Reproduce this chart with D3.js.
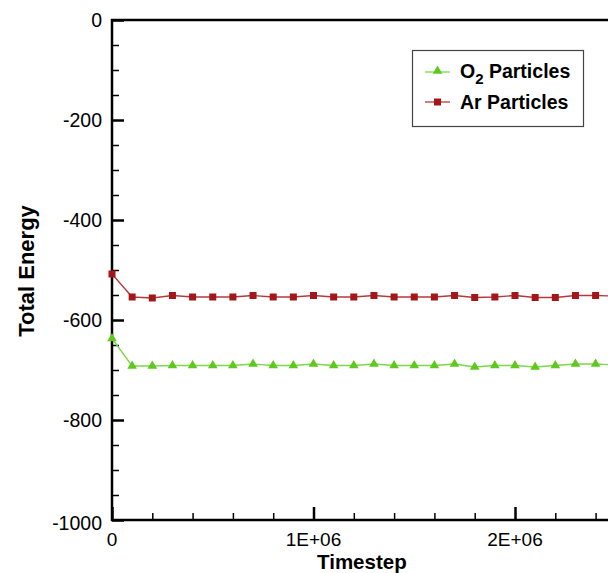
<!DOCTYPE html>
<html>
<head>
<meta charset="utf-8">
<script src="https://cdn.jsdelivr.net/npm/d3@7"></script>
<style>
  html, body { margin: 0; padding: 0; background: #fff; }
  svg { display: block; }
  text { font-family: "Liberation Sans", Arial, sans-serif; }
</style>
</head>
<body>
<svg id="chart" width="608" height="573"></svg>
<script>
// Sampled every 1E+05 timesteps
const timesteps = d3.range(0, 26).map(i => i * 1e5);
const o2Energy = [-637, -692, -692, -691, -691, -691, -691, -688, -691, -691,
                  -688, -691, -691, -688, -691, -691, -691, -688, -694, -691,
                  -691, -694, -691, -688, -688, -690];
const arEnergy = [-508, -554, -556, -551, -554, -554, -554, -551, -554, -554,
                  -551, -554, -554, -551, -554, -554, -554, -551, -555, -554,
                  -551, -555, -555, -551, -551, -552];
const yTickValues = [0, -200, -400, -600, -800, -1000];
const xTickValues = [0, 1e6, 2e6];
const xTickLabels = ["0", "1E+06", "2E+06"];
const seriesNames = ["O\u2082 Particles", "Ar Particles"];

const svg = d3.select("#chart");
const plotLeft = 112, plotTop = 20, plotBottom = 520;
const x = d3.scaleLinear().domain([0, 3e6]).range([plotLeft, plotLeft + 3 * 201.5]);
const y = d3.scaleLinear().domain([-1000, 0]).range([plotBottom, plotTop]);
const plotRight = x(3e6);

const green = "#5fc81c", greenLine = "#7ad84a";
const red = "#a3161a", redLine = "#b8383a";

// Frame
svg.append("rect")
  .attr("x", plotLeft).attr("y", plotTop)
  .attr("width", plotRight - plotLeft).attr("height", plotBottom - plotTop)
  .attr("fill", "none").attr("stroke", "#000").attr("stroke-width", 2.5);

// Left axis: inward ticks
const yAxis = d3.axisRight(y)
  .tickValues(d3.range(-1000, 1, 50))
  .tickSize(0).tickFormat("");
const gy = svg.append("g").attr("transform", `translate(${plotLeft},0)`).call(yAxis);
gy.select(".domain").remove();
gy.selectAll(".tick line")
  .attr("x2", d => (d % 200 === 0 ? 12 : 7))
  .attr("stroke", "#000")
  .attr("stroke-width", d => (d % 200 === 0 ? 2.5 : 1.5));

yTickValues.forEach(v => {
  svg.append("text")
    .attr("x", plotLeft - 10)
    .attr("y", y(v) + (v === -1000 ? 3 : 0))
    .attr("dy", "0.35em")
    .attr("text-anchor", "end")
    .attr("font-size", 19.5)
    .text(v);
});

// Bottom axis: inward ticks
const xAxis = d3.axisTop(x)
  .tickValues(d3.range(0, 3e6 + 1, 2e5))
  .tickSize(0).tickFormat("");
const gx = svg.append("g").attr("transform", `translate(0,${plotBottom})`).call(xAxis);
gx.select(".domain").remove();
gx.selectAll(".tick line")
  .attr("y2", d => (Math.round(d) % 1e6 === 0 ? -13 : -7))
  .attr("stroke", "#000")
  .attr("stroke-width", d => (Math.round(d) % 1e6 === 0 ? 2.5 : 1.5));

xTickValues.forEach((v, i) => {
  svg.append("text")
    .attr("x", x(v))
    .attr("y", 546)
    .attr("text-anchor", "middle")
    .attr("font-size", 19)
    .text(xTickLabels[i]);
});

// Axis titles
svg.append("text")
  .attr("x", x(1.24e6)).attr("y", 569)
  .attr("text-anchor", "middle")
  .attr("font-size", 20.5).attr("font-weight", "bold")
  .text("Timestep");

svg.append("text")
  .attr("transform", "translate(34,271) rotate(-90)")
  .attr("text-anchor", "middle")
  .attr("font-size", 22).attr("font-weight", "bold")
  .text("Total Energy");

// Series
const line = d3.line().x((d, i) => x(timesteps[i])).y(d => y(d));
const plot = svg.append("g");

plot.append("path").datum(o2Energy)
  .attr("d", line).attr("fill", "none")
  .attr("stroke", greenLine).attr("stroke-width", 1.3);
plot.append("path").datum(arEnergy)
  .attr("d", line).attr("fill", "none")
  .attr("stroke", redLine).attr("stroke-width", 1.3);

const tri = d3.symbol().type(d3.symbolTriangle).size(40);
plot.selectAll(".o2").data(o2Energy).join("path")
  .attr("class", "o2")
  .attr("d", tri)
  .attr("transform", (d, i) => `translate(${x(timesteps[i])},${y(d)})`)
  .attr("fill", green);

plot.selectAll(".ar").data(arEnergy).join("rect")
  .attr("class", "ar")
  .attr("x", (d, i) => x(timesteps[i]) - 3.5)
  .attr("y", d => y(d) - 3.5)
  .attr("width", 7).attr("height", 7)
  .attr("fill", red);

// Legend
const lg = svg.append("g");
lg.append("rect")
  .attr("x", 412.5).attr("y", 50.5).attr("width", 171).attr("height", 76)
  .attr("fill", "#fff").attr("stroke", "#444").attr("stroke-width", 1.2);

const rows = [
  { color: green, lineColor: greenLine, yy: 72 },
  { color: red, lineColor: redLine, yy: 102 }
];
rows.forEach((r, i) => {
  lg.append("line")
    .attr("x1", 425).attr("x2", 450).attr("y1", r.yy).attr("y2", r.yy)
    .attr("stroke", r.lineColor).attr("stroke-width", 1.3);
  if (i === 0) {
    lg.append("path").attr("d", tri)
      .attr("transform", `translate(437.5,${r.yy - 1})`).attr("fill", r.color);
  } else {
    lg.append("rect").attr("x", 434).attr("y", r.yy - 3.5)
      .attr("width", 7).attr("height", 7).attr("fill", r.color);
  }
});
const t1 = lg.append("text").attr("x", 460).attr("y", 78)
  .attr("font-size", 19.5).attr("font-weight", "bold");
t1.append("tspan").text("O");
t1.append("tspan").attr("font-size", 15).attr("dy", 6).text("2");
t1.append("tspan").attr("dy", -6).text(" Particles");
lg.append("text").attr("x", 460).attr("y", 109)
  .attr("font-size", 19.5).attr("font-weight", "bold")
  .text(seriesNames[1]);
</script>
</body>
</html>
